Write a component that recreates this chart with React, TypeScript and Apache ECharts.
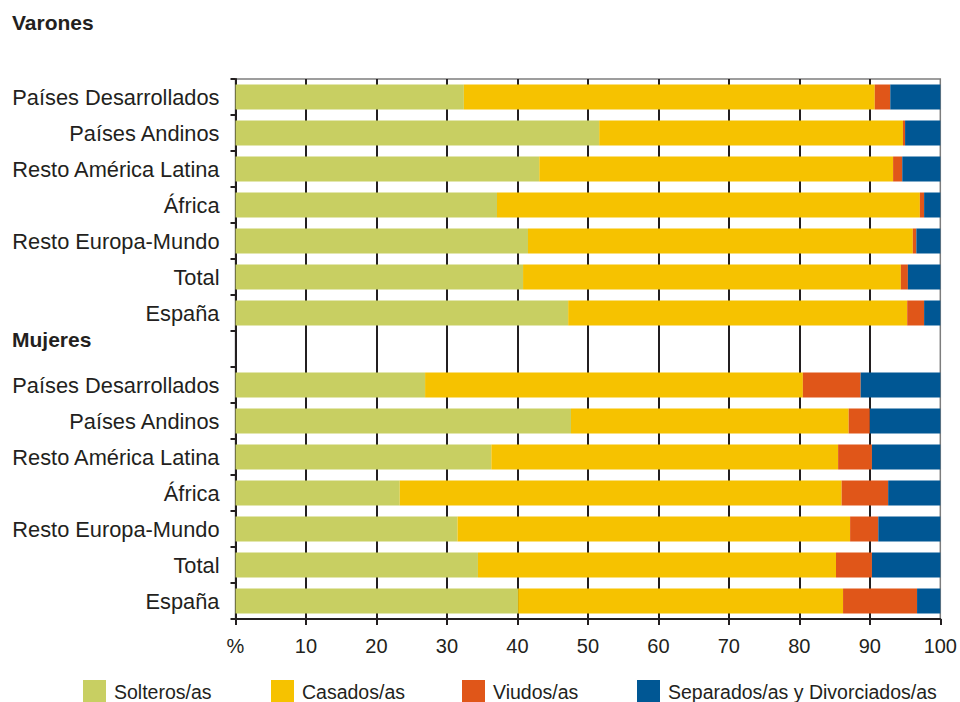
import React, { useEffect, useRef } from "react";
import * as echarts from "echarts";

const categories = [
  "Países Desarrollados",
  "Países Andinos",
  "Resto América Latina",
  "África",
  "Resto Europa-Mundo",
  "Total",
  "España",
];
const seriesNames = ["Solteros/as", "Casados/as", "Viudos/as", "Separados/as y Divorciados/as"];
const colors = ["#c8cf62", "#f6c200", "#e05619", "#005794"];

const solterosVarones = [32.4, 51.6, 43.1, 37.1, 41.5, 40.8, 47.2];
const casadosVarones = [58.3, 43.1, 50.2, 60.0, 54.6, 53.6, 48.1];
const viudosVarones = [2.2, 0.3, 1.3, 0.6, 0.5, 1.0, 2.4];
const separadosVarones = [7.1, 5.0, 5.4, 2.3, 3.4, 4.6, 2.3];

const solterosMujeres = [26.9, 47.6, 36.3, 23.3, 31.5, 34.4, 40.1];
const casadosMujeres = [53.6, 39.4, 49.2, 62.7, 55.7, 50.8, 46.1];
const viudosMujeres = [8.2, 3.0, 4.8, 6.6, 4.0, 5.1, 10.5];
const separadosMujeres = [11.3, 10.0, 9.7, 7.4, 8.8, 9.7, 3.3];

const xTicks = [0, 10, 20, 30, 40, 50, 60, 70, 80, 90, 100];
const sectionTitles = ["Varones", "Mujeres"];

const varones = [solterosVarones, casadosVarones, viudosVarones, separadosVarones];
const mujeres = [solterosMujeres, casadosMujeres, viudosMujeres, separadosMujeres];

const TEXT = "#231f20";
const FONT = "'Liberation Sans', Arial, Helvetica, sans-serif";

export default function App() {
  const ref = useRef<HTMLDivElement>(null);
  useEffect(() => {
    if (!ref.current) return;
    const chart = echarts.init(ref.current, undefined, { renderer: "svg" });
    const rowKeys = [
      ...categories.map((c) => "V|" + c),
      "G|",
      ...categories.map((c) => "M|" + c),
    ];
    const legendLefts = [83, 271, 462, 637];
    chart.setOption({
      animation: false,
      backgroundColor: "#ffffff",
      textStyle: { fontFamily: FONT },
      grid: {
        left: 235.5,
        right: 19.5,
        top: 79,
        bottom: 83,
        show: true,
        borderColor: "#7d7d7d",
        borderWidth: 1.5,
        backgroundColor: "transparent",
      },
      legend: seriesNames.map((n, i) => ({
        data: [n],
        left: legendLefts[i],
        top: 680,
        padding: 0,
        itemWidth: 23,
        itemHeight: 23,
        icon: "rect",
        selectedMode: false,
        textStyle: { color: TEXT, fontSize: 19.5, fontFamily: FONT, padding: [2, 0, 0, 3] },
      })),
      xAxis: {
        type: "value",
        min: 0,
        max: 100,
        interval: 10,
        axisLine: { show: true, lineStyle: { color: TEXT, width: 2 } },
        axisTick: { show: true, length: 6, lineStyle: { color: TEXT, width: 2 } },
        axisLabel: {
          color: TEXT,
          fontSize: 20,
          fontFamily: FONT,
          margin: 17,
          formatter: (v: number) => (v === xTicks[0] ? "%" : String(v)),
        },
        splitLine: {
          show: true,
          showMinLine: false,
          showMaxLine: false,
          lineStyle: { color: TEXT, width: 2 },
        },
      },
      yAxis: {
        type: "category",
        inverse: true,
        data: rowKeys,
        axisLine: { show: true, lineStyle: { color: TEXT, width: 2 } },
        axisTick: { show: true, length: 5, lineStyle: { color: TEXT, width: 2 } },
        axisLabel: {
          color: TEXT,
          fontSize: 21.8,
          fontFamily: FONT,
          margin: 16,
          padding: [0, 0, 3, 0],
          formatter: (v: string) => v.split("|")[1],
        },
        splitLine: { show: false },
      },
      graphic: [
        {
          type: "text",
          left: 12,
          top: 12,
          style: { text: sectionTitles[0], fill: TEXT, font: `bold 21px ${FONT}` },
        },
        {
          type: "text",
          left: 12,
          top: 329,
          style: { text: sectionTitles[1], fill: TEXT, font: `bold 21px ${FONT}` },
        },
      ],
      series: seriesNames.map((name, i) => ({
        name,
        type: "bar",
        stack: "total",
        barWidth: 25,
        itemStyle: { color: colors[i] },
        emphasis: { disabled: true },
        data: [...varones[i], "-", ...mujeres[i]],
      })),
    });
    return () => chart.dispose();
  }, []);
  return (
    <div
      ref={ref}
      style={{ position: "absolute", left: 0, top: 0, width: 960, height: 702 }}
    />
  );
}
